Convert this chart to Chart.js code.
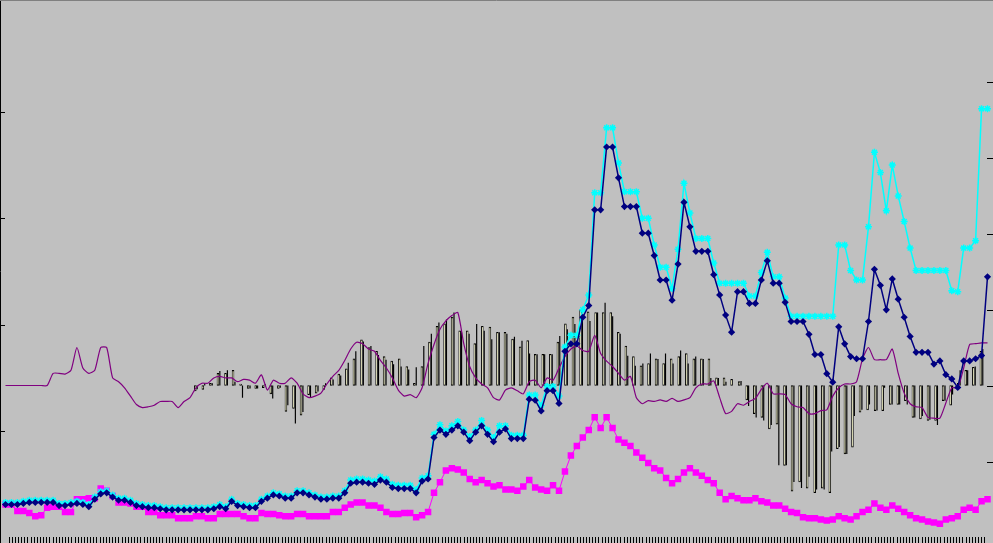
<!DOCTYPE html>
<html>
<head>
<meta charset="utf-8">
<script src="https://cdn.jsdelivr.net/npm/chart.js@4.4.0/dist/chart.umd.min.js"></script>
<style>
  html, body { margin: 0; padding: 0; background: #c0c0c0; }
  #wrap { width: 993px; height: 543px; }
</style>
</head>
<body>
<div id="wrap"><canvas id="chart"></canvas></div>
<script>
// line series, one value per point (left axis 0..50)
const navy = [
  3.1,3.1,3.1,3.2,3.3,3.3,3.3,3.3,3.3,3.0, 3.0,3.1,3.2,3.1,2.9,3.6,4.1,4.2,3.8,3.5,
  3.5,3.3,3.0,2.9,2.8,2.8,2.7,2.6,2.6,2.6, 2.6,2.6,2.6,2.6,2.6,2.7,2.9,2.7,3.4,3.0,
  2.9,2.8,2.8,3.4,3.7,4.0,3.9,3.7,3.7,4.2, 4.2,4.0,3.8,3.6,3.6,3.7,3.7,4.2,5.1,5.2,
  5.2,5.1,5.0,5.4,5.2,4.7,4.6,4.6,4.6,4.2, 5.3,5.5,9.4,10.1,9.7,10.1,10.5,9.9,9.1,9.9,
  10.5,9.7,9.0,9.9,10.2,9.3,9.3,9.3,13.0,12.9, 11.9,13.8,13.8,12.6,17.5,18.2,18.2,20.7,21.8,30.8,
  30.8,36.7,36.7,33.8,31.1,31.1,31.1,28.6,28.6,26.5, 24.2,24.2,22.3,25.7,31.5,29.2,26.9,26.9,26.9,24.7,
  22.8,20.9,19.3,23.1,23.1,22.0,22.0,24.2,26.0,23.9, 23.9,22.1,20.3,20.3,20.3,19.1,17.2,17.2,15.4,14.6,
  19.8,18.2,17.0,16.8,16.8,20.3,25.2,23.7,21.4,24.3, 22.4,20.7,18.9,17.4,17.4,17.4,16.3,16.6,15.3,14.9,
  14.1,16.6,16.6,16.8,17.1,24.5
];
const cyan = [
  3.3,3.3,3.3,3.4,3.5,3.5,3.5,3.5,3.5,3.2, 3.2,3.3,3.4,3.3,3.1,3.8,4.3,4.4,4.0,3.7,
  3.7,3.5,3.2,3.1,3.0,3.0,2.9,2.8,2.8,2.8, 2.8,2.8,2.8,2.8,2.8,2.9,3.1,2.9,3.6,3.2,
  3.1,3.0,3.0,3.6,3.9,4.2,4.1,3.9,3.9,4.4, 4.4,4.2,4.0,3.8,3.8,3.9,3.9,4.4,5.4,5.5,
  5.5,5.4,5.3,5.7,5.5,5.0,4.9,4.9,4.9,4.5, 5.6,5.8,9.7,10.6,10.0,10.5,10.9,10.1,9.5,10.1,
  11.0,10.1,9.4,10.5,10.5,9.6,9.6,9.6,13.4,13.4, 12.4,14.2,14.2,13.3,17.9,19.0,19.0,21.4,22.8,32.4,
  32.4,38.5,38.5,35.2,32.5,32.5,32.5,30.0,30.0,27.5, 25.4,25.4,23.4,27.1,33.3,30.5,28.1,28.1,28.1,25.8,
  23.9,23.9,23.9,23.9,23.9,22.7,22.7,24.9,26.8,24.5, 24.5,22.5,20.8,20.8,20.8,20.8,20.8,20.8,20.8,20.8,
  27.5,27.5,25.1,24.2,24.2,29.2,36.2,34.3,30.7,35.0, 32.1,29.7,27.2,25.1,25.1,25.1,25.1,25.1,25.1,23.2,
  23.1,27.2,27.2,27.9,40.3,40.3
];
const magenta = [
  3.1,3.1,2.5,2.5,2.3,2.0,2.1,2.8,2.9,2.9, 2.4,2.4,3.6,3.6,3.7,3.7,4.6,4.4,3.9,3.3,
  3.3,3.2,2.9,2.9,2.4,2.4,2.1,2.1,2.1,1.8, 1.8,1.8,2.0,2.0,1.8,1.8,2.2,2.2,2.2,2.2,
  2.0,1.8,1.8,2.3,2.2,2.2,2.1,2.0,2.0,2.2, 2.2,2.0,2.0,2.0,2.0,2.4,2.4,2.8,3.1,3.3,
  3.3,3.0,3.0,2.8,2.4,2.2,2.2,2.3,2.3,1.9, 2.1,2.4,4.2,5.2,6.3,6.5,6.4,6.1,5.5,5.2,
  5.4,5.1,4.8,4.9,4.5,4.5,4.4,4.8,5.4,4.7, 4.5,4.4,4.9,4.4,6.2,7.7,8.6,9.4,10.1,11.3,
  10.3,11.3,10.3,9.2,8.9,8.6,8.0,7.5,7.0,6.5, 6.3,5.6,5.1,5.5,6.1,6.5,6.1,5.8,5.4,5.1,
  4.2,3.6,3.9,3.7,3.5,3.5,3.7,3.4,3.3,3.0, 3.0,2.7,2.4,2.3,1.9,1.8,1.8,1.7,1.6,1.7,
  2.0,1.8,1.7,2.0,2.4,2.6,3.2,2.8,2.6,3.0, 2.7,2.4,2.1,1.8,1.7,1.5,1.4,1.3,1.7,1.8,
  2.0,2.6,2.8,2.6,3.4,3.6
];
// right axis (-20..50)
const purple = [
  0,0,0,0,0,0,0,0,1.6,1.6, 1.5,2.0,5.0,2.3,1.6,2.0,5.0,5.0,1.0,0.5,
  -0.3,-1.4,-2.5,-2.9,-2.8,-2.6,-2.1,-2.1,-2.1,-2.9, -2.1,-1.6,-0.3,0.3,0.3,1.0,1.2,1.0,1.0,0.5,
  0.8,0.7,0.3,1.4,-0.6,0.7,0.3,0.3,1.0,0.3, -1.1,-1.6,-1.4,-1.0,0.2,1.2,2.0,3.3,4.8,5.7,
  5.5,4.8,4.5,3.3,2.3,1.0,-0.6,-1.4,-1.2,-1.6, -0.3,2.9,5.4,7.4,8.5,9.2,9.6,5.5,2.5,1.0,
  0.2,-0.3,-1.6,-1.9,-0.6,-0.3,-0.7,-1.1,0.5,0.7, -0.3,1.0,0.7,2.3,3.8,4.8,5.2,4.6,4.5,6.6,
  4.2,3.2,2.5,1.6,0.7,1.2,-1.6,-2.4,-2.0,-2.1, -1.9,-2.1,-1.7,-2.1,-1.9,-1.6,-0.3,0.2,0.2,0.6,
  -1.6,-3.7,-3.4,-2.4,-2.6,-2.1,-1.7,-0.5,0.3,-1.1, -1.1,-1.2,-2.4,-2.8,-2.9,-3.7,-3.7,-3.3,-3.2,-1.4,
  -0.3,0.2,0.2,0.5,3.5,5.0,3.4,3.4,3.4,4.8, 1.6,-1.0,-2.4,-2.8,-2.9,-4.2,-4.3,-4.3,-2.3,-0.3,
  -0.3,2.3,5.4,5.5,5.6,5.6
];
const cream = [
  null,null,null,null,null,null,null,null,null,null, null,null,null,null,null,null,null,null,null,null,
  null,null,null,null,null,-0.7,-0.5,0.3,1.6,1.6, 2.0,0.2,-0.4,-0.4,-0.3,-1.1,-0.4,-3.4,-3.0,-3.9,
  -1.2,-1.0,-0.5,1.0,1.5,2.2,3.5,6.0,5.0,4.5, 3.8,3.2,3.5,2.5,0.3,2.5,5.7,7.8,8.1,9.0,
  7.2,7.2,5.5,7.8,7.7,7.0,7.0,6.1,5.1,5.9, 4.1,4.1,4.1,5.7,8.1,9.0,10.0,9.7,9.6,9.6,
  9.6,7.0,5.2,3.8,2.6,2.9,3.5,2.9,3.5,3.8, 4.2,3.5,3.5,3.5,1.0,1.0,0.8,0.5,-1.9,-3.7,
  -4.2,-5.7,-5.1,-10.5,-13.9,-12.7,-13.5,-14.1,-13.5,-14.1, -8.3,-9.0,-8.1,-3.5,-3.2,-3.3,-3.3,-2.5,-2.5,-2.0,
  -4.2,-4.4,-4.6,-4.6,-2.0,-2.6,0.3,2.0,2.4,4.5
];
const black = [
  null,null,null,null,null,null,null,null,null,null, null,null,null,null,null,null,null,null,null,null,
  null,null,null,null,null,-0.5,0.3,0.3,1.9,2.0, 0.5,-1.6,-0.4,-0.4,0.2,-1.7,-0.3,-2.6,-5.0,-3.5,
  -1.5,-0.8,0.3,0.8,1.3,3.0,4.5,5.8,5.2,4.0, 3.4,2.8,2.5,2.1,2.4,5.2,6.8,8.3,8.7,9.6,
  7.0,6.8,8.1,7.2,6.1,7.0,6.8,6.4,5.9,4.2, 4.1,4.1,4.1,6.5,7.4,8.1,9.0,8.5,9.6,10.9,
  9.1,6.8,3.9,2.6,2.9,4.2,3.5,4.2,2.9,4.6, 2.9,3.8,3.5,1.0,1.0,0.5,null,0.6,-2.7,-4.2,
  -4.6,-5.2,-10.5,-10.5,-12.7,-13.5,-12.0,-13.7,-13.7,-8.7, -8.1,-9.0,-4.0,-3.2,-2.5,-3.3,-0.3,-2.5,-2.5,-2.5,
  -4.2,-4.0,-4.5,-5.2,-2.0,-1.2,2.0,2.0,2.5,4.8
];

const lineLabels = navy.map((v, i) => i + 1);
const barLabels = cream.map((v, i) => i + 1);
const tickLabels = Array.from({ length: 314 }, (v, i) => i);

const frame = {
  id: 'frame',
  beforeDraw(chart) {
    const ctx = chart.ctx;
    ctx.save();
    ctx.fillStyle = '#c0c0c0';
    ctx.fillRect(0, 0, chart.width, chart.height);
    ctx.restore();
  },
  afterDraw(chart) {
    const ctx = chart.ctx, W = chart.width, H = chart.height;
    const xt = chart.scales.xt, yl = chart.scales.y, yr = chart.scales.y2;
    ctx.save();
    ctx.strokeStyle = '#000';
    ctx.lineWidth = 1;
    ctx.beginPath();
    for (let i = 1; i < tickLabels.length - 1; i++) {
      const x = Math.round(xt.getPixelForValue(i)) + 0.5;
      ctx.moveTo(x, H);
      ctx.lineTo(x, H - 6);
    }
    for (let v = 10; v < 50; v += 10) {
      const y = Math.round(yl.getPixelForValue(v)) + 0.5;
      ctx.moveTo(0, y);
      ctx.lineTo(5, y);
    }
    for (let v = -10; v < 50; v += 10) {
      const y = Math.round(yr.getPixelForValue(v)) + 0.5;
      ctx.moveTo(W, y);
      ctx.lineTo(W - 6, y);
    }
    ctx.moveTo(0.5, 0);
    ctx.lineTo(0.5, H);
    ctx.stroke();
    ctx.strokeStyle = '#808080';
    ctx.beginPath();
    ctx.moveTo(0, 0.5);
    ctx.lineTo(W, 0.5);
    ctx.stroke();
    ctx.restore();
  }
};

new Chart(document.getElementById('chart'), {
  type: 'bar',
  data: {
    datasets: [
      {
        type: 'bar', label: 'A', data: cream, xAxisID: 'xb', yAxisID: 'y2', order: 10,
        backgroundColor: '#ffffc8', borderColor: '#000', borderWidth: 1, borderSkipped: false,
        categoryPercentage: 1, barPercentage: 1
      },
      {
        type: 'bar', label: 'B', data: black, xAxisID: 'xb', yAxisID: 'y2', order: 10,
        backgroundColor: '#000', borderWidth: 0,
        categoryPercentage: 1, barPercentage: 0.62
      },
      {
        type: 'line', label: 'P', data: purple, xAxisID: 'x', yAxisID: 'y2', order: 5,
        borderColor: '#800080', borderWidth: 1.2, pointRadius: 0, tension: 0.2
      },
      {
        type: 'line', label: 'M', data: magenta, xAxisID: 'x', yAxisID: 'y', order: 4,
        borderColor: '#ff00ff', borderWidth: 1, pointStyle: 'rect', pointRadius: 4.6,
        pointBackgroundColor: '#ff00ff', pointBorderColor: '#ff00ff', pointBorderWidth: 0
      },
      {
        type: 'line', label: 'C', data: cyan, xAxisID: 'x', yAxisID: 'y', order: 3,
        borderColor: '#00ffff', borderWidth: 1.5, pointStyle: 'star', pointRadius: 3.5,
        pointBorderColor: '#00ffff', pointBorderWidth: 1.5
      },
      {
        type: 'line', label: 'N', data: navy, xAxisID: 'x', yAxisID: 'y', order: 2,
        borderColor: '#000080', borderWidth: 1.5, pointStyle: 'rectRot', pointRadius: 3.6,
        pointBackgroundColor: '#000080', pointBorderColor: '#000080', pointBorderWidth: 0
      }
    ]
  },
  options: {
    responsive: true,
    maintainAspectRatio: false,
    animation: false,
    devicePixelRatio: 1,
    layout: { padding: { left: 0, right: 2, top: 0, bottom: 0 } },
    plugins: { legend: { display: false }, title: { display: false }, tooltip: { enabled: false } },
    scales: {
      x: { type: 'category', labels: lineLabels, offset: false, display: false },
      xb: { type: 'category', labels: barLabels, offset: true, display: false },
      xt: { type: 'category', labels: tickLabels, offset: false, display: false },
      y: { type: 'linear', position: 'left', min: 0, max: 50, ticks: { stepSize: 10 }, display: false },
      y2: { type: 'linear', position: 'right', min: -20, max: 50, ticks: { stepSize: 10 }, display: false }
    }
  },
  plugins: [frame]
});
</script>
</body>
</html>
